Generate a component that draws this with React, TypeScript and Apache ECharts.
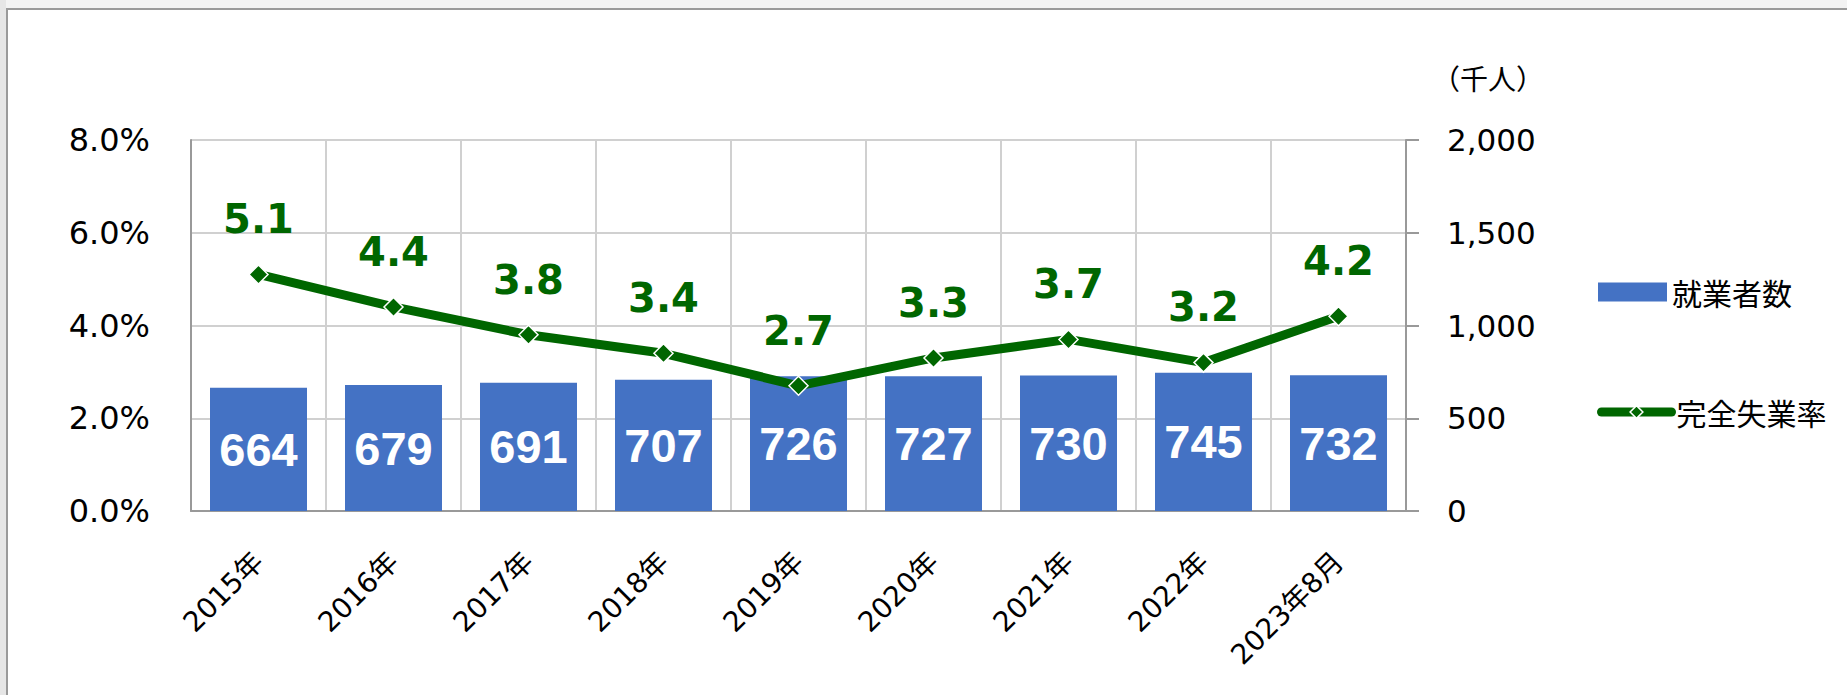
import React, { useEffect, useRef } from "react";
import * as echarts from "echarts";

const categories = ["2015年", "2016年", "2017年", "2018年", "2019年", "2020年", "2021年", "2022年", "2023年8月"];
const employed = [664, 679, 691, 707, 726, 727, 730, 745, 732];
const unemploymentRate = [5.1, 4.4, 3.8, 3.4, 2.7, 3.3, 3.7, 3.2, 4.2];
const leftTicks = { min: 0, max: 8, interval: 2 };
const rightTicks = { min: 0, max: 2000, interval: 500 };

const BLUE = "#4472C4";
const GREEN = "#006600";
const NUM_FONT = "'DejaVu Sans', Verdana, sans-serif";
const CJK_FONT = "'DejaVu Sans', 'Noto Sans CJK JP', sans-serif";

export default function App() {
  const ref = useRef<HTMLDivElement>(null);

  useEffect(() => {
    document.body.style.margin = "0";
    document.body.style.overflow = "hidden";
    if (!ref.current) return;
    const chart = echarts.init(ref.current, undefined, { renderer: "svg" });
    chart.setOption({
      animation: false,
      grid: { left: 191, right: 441, top: 140, bottom: 184, containLabel: false },
      legend: [
        {
          data: ["就業者数"],
          left: 1593,
          top: 272,
          itemWidth: 69,
          itemHeight: 19,
          icon: "rect",
          textStyle: { fontSize: 30, lineHeight: 30, color: "#000", fontFamily: "'Noto Sans CJK JP', sans-serif" },
        },
        {
          data: ["完全失業率"],
          left: 1592,
          top: 392,
          itemWidth: 70,
          itemHeight: 16,
          lineStyle: { width: 9, color: GREEN, cap: "round" },
          itemStyle: { color: GREEN, borderColor: "#fff", borderWidth: 1.5 },
          textStyle: { fontSize: 30, lineHeight: 30, color: "#000", fontFamily: "'Noto Sans CJK JP', sans-serif" },
        },
      ],
      xAxis: {
        type: "category",
        data: categories,
        boundaryGap: true,
        axisLine: { show: true, lineStyle: { color: "#999999", width: 2 } },
        axisTick: { show: false },
        splitLine: { show: true, interval: 0, lineStyle: { color: "#d0d0d0", width: 2 } },
        axisLabel: {
          interval: 0,
          rotate: 45,
          margin: 46,
          fontSize: 28,
          color: "#000",
          fontFamily: CJK_FONT,
        },
      },
      yAxis: [
        {
          type: "value",
          position: "left",
          min: leftTicks.min,
          max: leftTicks.max,
          interval: leftTicks.interval,
          axisLine: { show: true, lineStyle: { color: "#999999", width: 2 } },
          axisTick: { show: false },
          splitLine: { show: true, lineStyle: { color: "#d0d0d0", width: 2 } },
          axisLabel: {
            margin: 41,
            fontSize: 32,
            color: "#000",
            fontFamily: NUM_FONT,
            formatter: (v: number) => v.toFixed(1) + "%",
          },
        },
        {
          type: "value",
          position: "right",
          min: rightTicks.min,
          max: rightTicks.max,
          interval: rightTicks.interval,
          axisLine: { show: true, lineStyle: { color: "#999999", width: 2 } },
          axisTick: { show: true, length: 13, inside: false, lineStyle: { color: "#999999", width: 2 } },
          splitLine: { show: false },
          axisLabel: {
            margin: 41,
            fontSize: 31,
            color: "#000",
            fontFamily: NUM_FONT,
            formatter: (v: number) => v.toLocaleString("en-US"),
          },
        },
      ],
      graphic: [
        {
          type: "text",
          left: 1432,
          top: 64,
          style: { text: "（千人）", fontSize: 28, fill: "#000", fontFamily: "'Noto Sans CJK JP', sans-serif" },
        },
      ],
      series: [
        {
          name: "就業者数",
          type: "bar",
          yAxisIndex: 1,
          data: employed,
          barWidth: 97,
          itemStyle: { color: BLUE },
          label: {
            show: true,
            position: "inside",
            color: "#fff",
            fontSize: 47,
            fontWeight: "bold",
            fontFamily: "'Liberation Sans', Arial, sans-serif",
          },
        },
        {
          name: "完全失業率",
          type: "line",
          yAxisIndex: 0,
          data: unemploymentRate,
          symbol: "diamond",
          symbolSize: 19,
          lineStyle: { color: GREEN, width: 9, cap: "round" },
          itemStyle: { color: GREEN, borderColor: "#fff", borderWidth: 1.5 },
          label: {
            show: true,
            position: "top",
            distance: 25,
            color: GREEN,
            fontSize: 40,
            lineHeight: 40,
            fontWeight: "bold",
            fontFamily: "'DejaVu Sans', Verdana, sans-serif",
            formatter: (p: any) => Number(p.value).toFixed(1),
          },
          z: 5,
        },
      ],
    });
    return () => chart.dispose();
  }, []);

  return (
    <div style={{ position: "relative", width: 1847, height: 695, background: "#f3f3f3", overflow: "hidden" }}>
      <div style={{ position: "absolute", left: 0, top: 0, width: 6, height: 695, background: "#e6e6e6" }} />
      <div
        style={{
          position: "absolute",
          left: 6,
          top: 8,
          right: 0,
          bottom: 0,
          background: "#fff",
          borderTop: "2px solid #9a9a9a",
          borderLeft: "2px solid #9a9a9a",
        }}
      />
      <div ref={ref} style={{ position: "absolute", left: 0, top: 0, width: 1847, height: 695 }} />
    </div>
  );
}
